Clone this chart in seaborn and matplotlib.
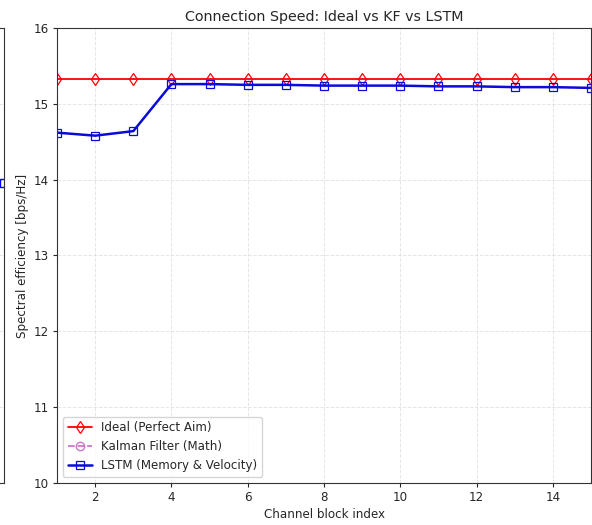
import numpy as np
import pandas as pd
import matplotlib
matplotlib.use("Agg")
import matplotlib.pyplot as plt
import seaborn as sns

sns.set_style("white")
plt.rcParams['font.family'] = ['DejaVu Sans']

blocks = list(range(1, 16))
ideal = [15.33] * 15
kalman = [np.nan] * 15  # not visible within the plotted range
lstm = [14.62, 14.58, 14.64, 15.26, 15.26, 15.25, 15.25, 15.24, 15.24,
        15.24, 15.23, 15.23, 15.22, 15.22, 15.21]
# neighbouring panel (only its right edge is visible)
left_x = [15]
left_lstm = [13.96]

title = "Connection Speed: Ideal vs KF vs LSTM"
xlabel = "Channel block index"
ylabel = "Spectral efficiency [bps/Hz]"

fs = 8.6

fig = plt.figure(figsize=(5.92, 5.25), dpi=100)

# partially visible neighbouring panel
axl = fig.add_axes([-0.3, 0.08, 0.3068, 0.8667])
axl.set_xlim(1, 15)
axl.set_ylim(10, 16)
axl.grid(True, linestyle='--', alpha=0.5, linewidth=0.7)
sns.lineplot(x=left_x, y=left_lstm, ax=axl, color='blue', marker='s',
             markerfacecolor='none', markeredgecolor='blue', markersize=6,
             markeredgewidth=1.0, linewidth=1.7)
axl.set_xticklabels([])
axl.set_yticklabels([])
for s in axl.spines.values():
    s.set_color('#333333')

ax = fig.add_axes([0.0963, 0.08, 0.902, 0.8667])
sns.lineplot(x=blocks, y=ideal, ax=ax, color='red', marker='d',
             markerfacecolor='none', markeredgecolor='red', markersize=6,
             markeredgewidth=0.9, linewidth=1.3, label='Ideal (Perfect Aim)')
ax.plot(blocks, kalman, color='#c060c0', linestyle='--', marker='o',
        markerfacecolor='none', markeredgecolor='#c060c0', markersize=6,
        linewidth=1.3, alpha=0.85, label='Kalman Filter (Math)')
sns.lineplot(x=blocks, y=lstm, ax=ax, color='#0a0adc', marker='s',
             markerfacecolor='none', markeredgecolor='#0a0adc', markersize=6,
             markeredgewidth=0.9, linewidth=1.8, label='LSTM (Memory & Velocity)')

ax.set_xlim(1, 15)
ax.set_ylim(10, 16)
ax.set_xticks([2, 4, 6, 8, 10, 12, 14])
ax.set_yticks([10, 11, 12, 13, 14, 15, 16])
ax.grid(True, linestyle='--', alpha=0.5, linewidth=0.7)
ax.set_title(title, fontsize=10.3, pad=5)
ax.set_xlabel(xlabel, fontsize=fs, labelpad=3)
ax.set_ylabel(ylabel, fontsize=fs, labelpad=3)
ax.tick_params(axis='both', which='major', labelsize=fs, length=3,
               pad=3, left=True, bottom=True)
for s in ax.spines.values():
    s.set_color('#333333')
ax.legend(loc='lower left', fontsize=fs)

fig.savefig("out.png", dpi=100)
